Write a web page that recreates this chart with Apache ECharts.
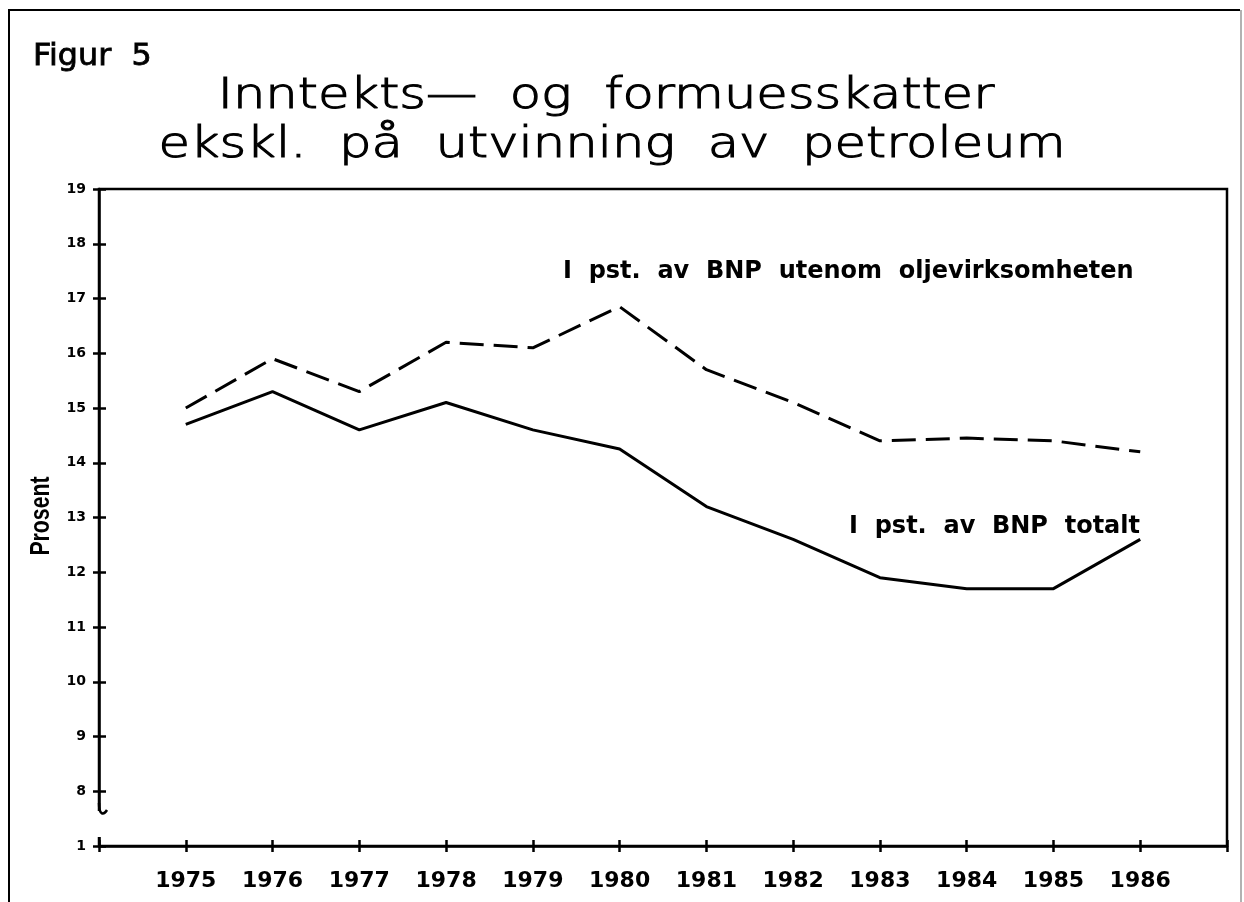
<!DOCTYPE html>
<html>
<head>
<meta charset="utf-8">
<title>Figur 5</title>
<script src="https://cdn.jsdelivr.net/npm/echarts@6/dist/echarts.min.js"></script>
<style>
  html, body { margin: 0; padding: 0; background: #fff; }
  #chart { width: 1244px; height: 902px; }
</style>
</head>
<body>
<div id="chart"></div>
<script>
// data
const years = [1975, 1976, 1977, 1978, 1979, 1980, 1981, 1982, 1983, 1984, 1985, 1986]
const utenomOlje = [15.0, 15.9, 15.3, 16.2, 16.1, 16.85, 15.7, 15.1, 14.4, 14.45, 14.4, 14.2]
const totalt = [14.7, 15.3, 14.6, 15.1, 14.6, 14.25, 13.2, 12.6, 11.9, 11.7, 11.7, 12.6]
const yMin = 7
const yMax = 19
const xMin = 1974
const xMax = 1987

const chart = echarts.init(document.getElementById('chart'))

const pairs = (vals) => years.map((y, i) => [y, vals[i]])

const axisFont = "'DejaVu Sans', Verdana, sans-serif"
const plotBox = { left: 99, right: 17, top: 189, bottom: 56 }

const baseX = {
  type: 'value',
  min: xMin,
  max: xMax,
  interval: 1,
  splitLine: { show: false }
}
const baseY = {
  type: 'value',
  min: yMin,
  max: yMax,
  interval: 1,
  splitLine: { show: false }
}
const tickStyle = { color: '#000', width: 2.5 }

const option = {
  animation: false,
  backgroundColor: '#fff',
  grid: [
    Object.assign({ show: true, borderColor: '#000', borderWidth: 2.5 }, plotBox),
    // same box again, only to carry the inner half of the ticks
    Object.assign({ show: false }, plotBox)
  ],
  xAxis: [
    Object.assign({}, baseX, {
      gridIndex: 0,
      axisLine: { lineStyle: { color: '#000', width: 2.5 } },
      axisTick: { length: 6, lineStyle: tickStyle },
      axisLabel: {
        margin: 24,
        color: '#000',
        fontFamily: axisFont,
        fontWeight: 'bold',
        fontSize: 22,
        formatter: (v) => (years.indexOf(v) >= 0 ? String(v) : '')
      }
    }),
    Object.assign({}, baseX, {
      gridIndex: 1,
      axisLine: { show: false },
      axisTick: { inside: true, length: 6, lineStyle: tickStyle },
      axisLabel: { show: false }
    })
  ],
  yAxis: [
    Object.assign({}, baseY, {
      gridIndex: 0,
      axisLine: { lineStyle: { color: '#000', width: 2.5 } },
      axisTick: { length: 6, lineStyle: tickStyle },
      axisLabel: {
        margin: 13,
        color: '#000',
        fontFamily: axisFont,
        fontWeight: 'bold',
        fontSize: 14,
        formatter: (v) => (v === yMin ? '1' : String(v))
      }
    }),
    Object.assign({}, baseY, {
      gridIndex: 1,
      axisLine: { show: false },
      axisTick: { inside: true, length: 7, lineStyle: tickStyle },
      axisLabel: { show: false }
    })
  ],
  series: [
    {
      name: 'I pst. av BNP utenom oljevirksomheten',
      type: 'line',
      data: pairs(utenomOlje),
      showSymbol: false,
      lineStyle: { color: '#000', width: 3, type: [24, 10] }
    },
    {
      name: 'I pst. av BNP totalt',
      type: 'line',
      data: pairs(totalt),
      showSymbol: false,
      lineStyle: { color: '#000', width: 3 }
    }
  ],
  graphic: [
    // outer frame of the page
    {
      type: 'polyline',
      shape: { points: [[9, 902], [9, 10], [1240, 10]] },
      style: { stroke: '#000', lineWidth: 2, fill: null }
    },
    {
      type: 'line',
      shape: { x1: 1241, y1: 10, x2: 1241, y2: 902 },
      style: { stroke: '#999', lineWidth: 1.5 }
    },
    // broken-axis mark between 8 and the bottom
    {
      type: 'rect',
      z: 100,
      shape: { x: 95, y: 811, width: 9, height: 26 },
      style: { fill: '#fff' }
    },
    {
      type: 'bezierCurve',
      z: 101,
      shape: { x1: 99, y1: 803, x2: 107, y2: 810, cpx1: 99, cpy1: 816, cpx2: 104, cpy2: 815 },
      style: { stroke: '#000', lineWidth: 2.5, fill: null }
    },
    {
      type: 'text',
      x: 33,
      y: 57,
      scaleX: 1.06,
      style: {
        text: 'Figur  5',
        font: "30px 'DejaVu Sans', sans-serif",
        fill: '#000',
        stroke: '#000',
        lineWidth: 0.8,
        align: 'left',
        verticalAlign: 'middle'
      }
    },
    {
      type: 'text',
      x: 606,
      y: 97,
      scaleX: 1.22,
      style: {
        text: 'Inntekts—  og  formuesskatter',
        font: "200 42px 'DejaVu Sans', sans-serif",
        fill: '#000',
        stroke: '#000',
        lineWidth: 1.1,
        align: 'center',
        verticalAlign: 'middle'
      }
    },
    {
      type: 'text',
      x: 612,
      y: 146,
      scaleX: 1.22,
      style: {
        text: 'ekskl.  på  utvinning  av  petroleum',
        font: "200 42px 'DejaVu Sans', sans-serif",
        fill: '#000',
        stroke: '#000',
        lineWidth: 1.1,
        align: 'center',
        verticalAlign: 'middle'
      }
    },
    {
      type: 'text',
      x: 563,
      y: 272,
      style: {
        text: 'I  pst.  av  BNP  utenom  oljevirksomheten',
        font: "bold 24px 'DejaVu Sans', sans-serif",
        fill: '#000',
        align: 'left',
        verticalAlign: 'middle'
      }
    },
    {
      type: 'text',
      x: 1140,
      y: 527,
      style: {
        text: 'I  pst.  av  BNP  totalt',
        font: "bold 24px 'DejaVu Sans', sans-serif",
        fill: '#000',
        align: 'right',
        verticalAlign: 'middle'
      }
    },
    {
      type: 'text',
      x: 41,
      y: 516,
      rotation: Math.PI / 2,
      scaleX: 0.76,
      style: {
        text: 'Prosent',
        font: "bold 28px 'Liberation Sans', Arial, sans-serif",
        fill: '#000',
        align: 'center',
        verticalAlign: 'middle'
      }
    }
  ]
}

chart.setOption(option)
</script>
</body>
</html>
